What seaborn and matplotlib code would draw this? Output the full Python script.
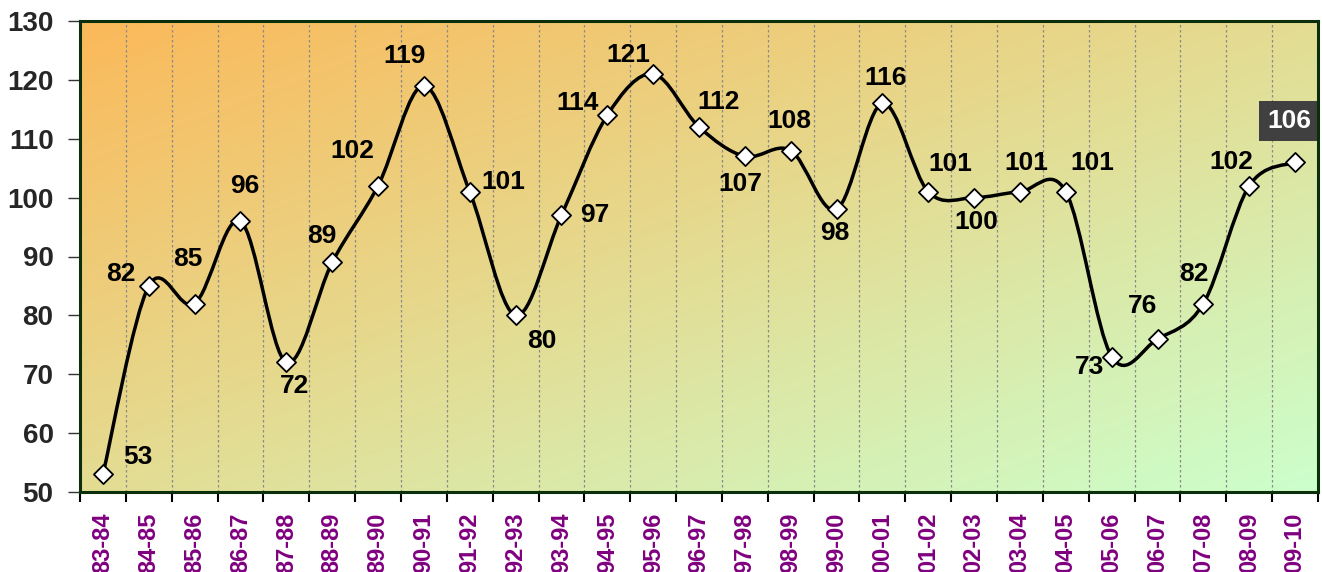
import matplotlib
matplotlib.use("Agg")
import matplotlib.pyplot as plt
import numpy as np
import pandas as pd
import seaborn as sns
from matplotlib.path import Path
from matplotlib.patches import PathPatch
from matplotlib.colors import to_rgb

# Dados do gráfico
temporadas = ["83-84", "84-85", "85-86", "86-87", "87-88", "88-89", "89-90",
              "90-91", "91-92", "92-93", "93-94", "94-95", "95-96", "96-97",
              "97-98", "98-99", "99-00", "00-01", "01-02", "02-03", "03-04",
              "04-05", "05-06", "06-07", "07-08", "08-09", "09-10"]
valores = [53, 85, 82, 96, 72, 89, 102, 119, 101, 80, 97, 114, 121, 112,
           107, 108, 98, 116, 101, 100, 101, 101, 73, 76, 82, 102, 106]
# rótulos como aparecem no gráfico original
rotulos = ["53", "82", "85", "96", "72", "89", "102", "119", "101", "80", "97",
           "114", "121", "112", "107", "108", "98", "116", "101", "100", "101",
           "101", "73", "76", "82", "102", "106"]
y_ticks = [50, 60, 70, 80, 90, 100, 110, 120, 130]

# deslocamento dos rótulos (pixels)
desloc = [(35, 17), (-28, 12), (-7, 45), (4, 35), (8, -24), (-10, 26), (-26, 35),
          (-19, 30), (34, 10), (26, -26), (33, 0), (-30, 12), (-25, 19), (20, 25),
          (-5, -28), (-1, 30), (-2, -24), (3, 25), (22, 28), (2, -24), (6, 29),
          (26, 29), (-22, -10), (-15, 33), (-10, 30), (-18, 24), (-6, 41)]

df = pd.DataFrame({"temporada": temporadas, "valor": valores})
df["x"] = np.arange(len(df))

sns.set_style("white")
plt.rcParams["font.family"] = ["Liberation Sans", "DejaVu Sans"]

fig = plt.figure(figsize=(13.22, 5.72), dpi=100)
ax = fig.add_axes([80 / 1322, 80 / 572, 1238 / 1322, 471 / 572])

# fundo em degradê (laranja -> verde claro)
c1 = np.array(to_rgb("#fbb95a"))
c2 = np.array(to_rgb("#ccffcc"))
u, v = np.meshgrid(np.linspace(0, 1, 300), np.linspace(0, 1, 120))
t = (u * 0.5 + v * 0.5)[..., None]
grad = c1 * (1 - t) + c2 * t
ax.imshow(grad, extent=[0, 1, 0, 1], origin="upper", transform=ax.transAxes,
          aspect="auto", zorder=0, interpolation="bicubic")

# curva suavizada (Bezier, estilo Excel)
pts = np.column_stack([df["x"], df["valor"]]).astype(float)
ext = np.vstack([pts[0], pts, pts[-1]])
verts = [tuple(pts[0])]
codes = [Path.MOVETO]
for i in range(1, len(ext) - 2):
    p0, p1, p2, p3 = ext[i - 1], ext[i], ext[i + 1], ext[i + 2]
    verts += [tuple(p1 + (p2 - p0) / 6), tuple(p2 - (p3 - p1) / 6), tuple(p2)]
    codes += [Path.CURVE4] * 3
ax.add_patch(PathPatch(Path(verts, codes), fill=False, lw=2.5, color="black",
                       zorder=3, capstyle="round", joinstyle="round"))

sns.scatterplot(data=df, x="x", y="valor", marker="D", s=95, color="white",
                edgecolor="black", linewidth=1.3, zorder=4, ax=ax)

for xi, yi, txt, (dx, dy) in zip(df["x"], df["valor"], rotulos, desloc):
    if xi == len(df) - 1:
        ax.annotate(txt, (xi, yi), xytext=(dx, dy), textcoords="offset pixels",
                    ha="center", va="center", fontsize=19, fontweight="bold",
                    color="white", zorder=6,
                    bbox=dict(boxstyle="square,pad=0.3", fc="#404040", ec="none"))
    else:
        ax.annotate(txt, (xi, yi), xytext=(dx, dy), textcoords="offset pixels",
                    ha="center", va="center", fontsize=19, fontweight="bold",
                    color="black", zorder=5)

ax.set_xlim(-0.5, len(df) - 0.5)
ax.set_ylim(50, 130)
ax.set_yticks(y_ticks)
ax.set_yticklabels([str(v) for v in y_ticks], fontsize=20, fontweight="bold")

limites = np.arange(-0.5, len(df), 1.0)
ax.set_xticks(limites)
ax.set_xticklabels([])
ax.set_xticks(df["x"], minor=True)
ax.set_xticklabels(temporadas, minor=True, rotation=90, fontsize=17,
                   fontweight="bold", color="#800080")
ax.tick_params(axis="x", which="major", direction="out", length=7, width=1.5,
               color="black", bottom=True)
ax.tick_params(axis="x", which="minor", length=0, pad=15, bottom=True)
ax.tick_params(axis="y", direction="out", length=9, width=1, color="#333333",
               pad=10, left=True)
ax.set_xlabel("")
ax.set_ylabel("")

ax.grid(False)
for xb in limites[1:-1]:
    ax.axvline(xb, color="#8a8a8a", lw=0.9, ls=(0, (2, 2)), zorder=1)

for s in ax.spines.values():
    s.set_visible(True)
    s.set_color("#0b2e0b")
    s.set_linewidth(2.2)
    s.set_zorder(7)

plt.savefig("out.png", dpi=100)
